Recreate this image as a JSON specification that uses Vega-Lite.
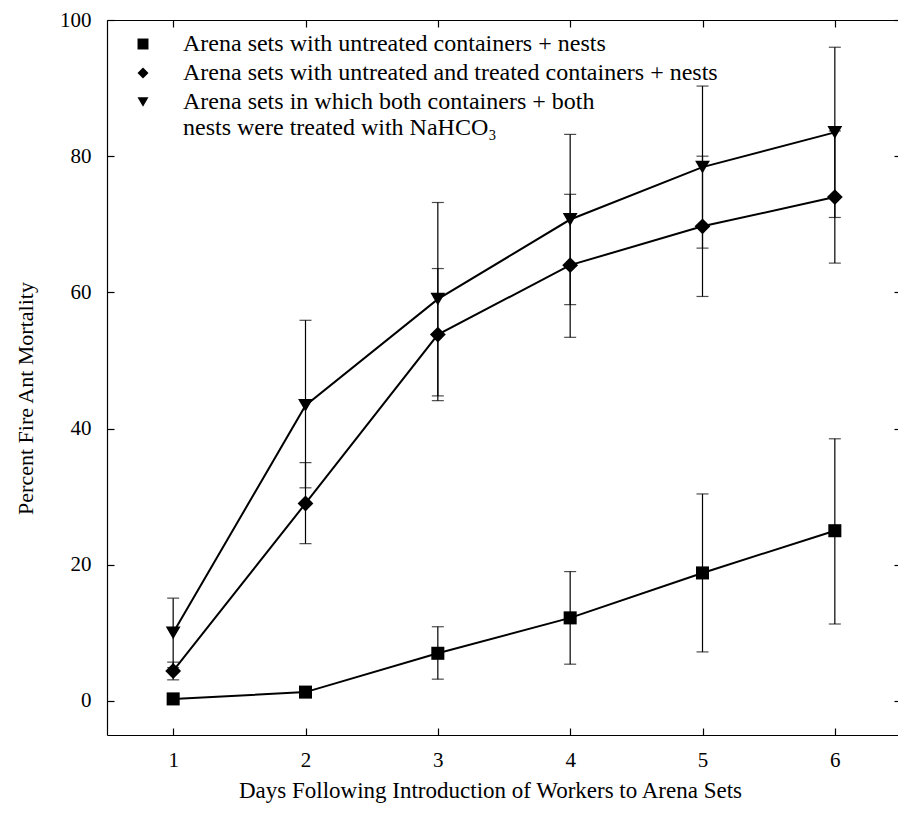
{
  "$schema": "https://vega.github.io/schema/vega-lite/v6.json",
  "width": 794,
  "height": 715,
  "autosize": "none",
  "padding": {"left": 107, "top": 20, "right": 0, "bottom": 85},
  "background": "white",
  "config": {
    "font": "Liberation Serif",
    "view": {"stroke": null},
    "axis": {
      "grid": false,
      "domainColor": "black",
      "domainWidth": 1.2,
      "tickColor": "black",
      "tickWidth": 1.2,
      "tickSize": -7,
      "labelFont": "Liberation Serif",
      "labelFontSize": 21,
      "labelColor": "black",
      "titleFont": "Liberation Serif",
      "titleFontSize": 22,
      "titleFontWeight": "normal",
      "titleColor": "black"
    },
    "legend": {
      "labelFont": "Liberation Serif",
      "labelFontSize": 24,
      "labelColor": "black",
      "labelLimit": 0
    }
  },
  "data": {
    "values": [
      {"series": "Arena sets with untreated containers + nests", "day": 1, "mean": 0.3, "low": 0.3, "high": 0.3},
      {"series": "Arena sets with untreated containers + nests", "day": 2, "mean": 1.3, "low": 1.3, "high": 1.3},
      {"series": "Arena sets with untreated containers + nests", "day": 3, "mean": 7.0, "low": 3.2, "high": 10.9},
      {"series": "Arena sets with untreated containers + nests", "day": 4, "mean": 12.2, "low": 5.4, "high": 19.0},
      {"series": "Arena sets with untreated containers + nests", "day": 5, "mean": 18.8, "low": 7.2, "high": 30.4},
      {"series": "Arena sets with untreated containers + nests", "day": 6, "mean": 25.0, "low": 11.3, "high": 38.5},
      {"series": "Arena sets with untreated and treated containers + nests", "day": 1, "mean": 4.4, "low": 3.1, "high": 5.7},
      {"series": "Arena sets with untreated and treated containers + nests", "day": 2, "mean": 29.0, "low": 23.1, "high": 35.0},
      {"series": "Arena sets with untreated and treated containers + nests", "day": 3, "mean": 53.8, "low": 44.1, "high": 63.5},
      {"series": "Arena sets with untreated and treated containers + nests", "day": 4, "mean": 64.0, "low": 53.4, "high": 74.4},
      {"series": "Arena sets with untreated and treated containers + nests", "day": 5, "mean": 69.7, "low": 59.4, "high": 80.0},
      {"series": "Arena sets with untreated and treated containers + nests", "day": 6, "mean": 74.0, "low": 64.3, "high": 83.7},
      {"series": "Arena sets in which both containers + both", "day": 1, "mean": 10.0, "low": 4.9, "high": 15.1},
      {"series": "Arena sets in which both containers + both", "day": 2, "mean": 43.4, "low": 31.3, "high": 55.9},
      {"series": "Arena sets in which both containers + both", "day": 3, "mean": 59.0, "low": 44.8, "high": 73.2},
      {"series": "Arena sets in which both containers + both", "day": 4, "mean": 70.7, "low": 58.2, "high": 83.2},
      {"series": "Arena sets in which both containers + both", "day": 5, "mean": 78.4, "low": 66.5, "high": 90.3},
      {"series": "Arena sets in which both containers + both", "day": 6, "mean": 83.5, "low": 71.0, "high": 96.0}
    ]
  },
  "layer": [
    {
      "mark": {"type": "errorbar", "color": "black", "ticks": {"size": 12, "thickness": 1.2, "color": "black"}, "rule": {"strokeWidth": 1.2}},
      "encoding": {
        "x": {"field": "day", "type": "quantitative", "scale": {"domain": [0.5, 6.5], "nice": false, "zero": false}, "axis": {
          "orient": "bottom", "values": [1, 2, 3, 4, 5, 6], "labelPadding": 21,
          "title": "Days Following Introduction of Workers to Arena Sets", "titlePadding": 9, "titleX": 383, "titleFontSize": 23
        }},
        "y": {"field": "low", "type": "quantitative", "scale": {"domain": [-5, 100], "nice": false, "zero": false}, "axis": {
          "orient": "left", "values": [0, 20, 40, 60, 80, 100], "labelPadding": 23,
          "title": "Percent Fire Ant Mortality", "titlePadding": 22, "titleY": 378
        }},
        "y2": {"field": "high"}
      }
    },
    {
      "mark": {"type": "line", "color": "black", "strokeWidth": 2},
      "encoding": {
        "x": {"field": "day", "type": "quantitative", "axis": null},
        "y": {"field": "mean", "type": "quantitative", "axis": null},
        "detail": {"field": "series"}
      }
    },
    {
      "transform": [{"filter": "datum.series == 'Arena sets with untreated containers + nests'"}],
      "mark": {"type": "point", "filled": true, "color": "black", "opacity": 1, "size": 170},
      "encoding": {
        "x": {"field": "day", "type": "quantitative", "axis": null},
        "y": {"field": "mean", "type": "quantitative", "axis": null},
        "shape": {
          "field": "series",
          "type": "nominal",
          "scale": {
            "domain": [
              "Arena sets with untreated containers + nests",
              "Arena sets with untreated and treated containers + nests",
              "Arena sets in which both containers + both"
            ],
            "range": ["square", "diamond", "triangle-down"]
          },
          "legend": {
            "title": null,
            "orient": "none",
            "legendX": 24,
            "legendY": 12,
            "symbolSize": 120,
            "symbolFillColor": "black",
            "symbolStrokeColor": "black",
            "symbolStrokeWidth": 0,
            "labelOffset": 28,
            "rowPadding": 5
          }
        }
      }
    },
    {
      "transform": [{"filter": "datum.series == 'Arena sets with untreated and treated containers + nests'"}],
      "mark": {"type": "point", "filled": true, "color": "black", "opacity": 1, "size": 250},
      "encoding": {
        "x": {"field": "day", "type": "quantitative", "axis": null},
        "y": {"field": "mean", "type": "quantitative", "axis": null},
        "shape": {"field": "series", "type": "nominal"}
      }
    },
    {
      "transform": [{"filter": "datum.series == 'Arena sets in which both containers + both'"}],
      "mark": {"type": "point", "filled": true, "color": "black", "opacity": 1, "size": 220},
      "encoding": {
        "x": {"field": "day", "type": "quantitative", "axis": null},
        "y": {"field": "mean", "type": "quantitative", "axis": null},
        "shape": {"field": "series", "type": "nominal"}
      }
    },
    {
      "mark": {"type": "point", "opacity": 0},
      "encoding": {
        "x": {"field": "day", "type": "quantitative", "axis": {"orient": "top", "values": [1, 2, 3, 4, 5, 6], "labels": false, "title": null}},
        "y": {"field": "mean", "type": "quantitative", "axis": {"orient": "right", "values": [0, 20, 40, 60, 80, 100], "labels": false, "title": null}},
        "color": {
          "datum": "nests were treated with NaHCO₃",
          "type": "nominal",
          "scale": {"range": ["black"]},
          "legend": {
            "title": null,
            "orient": "none",
            "legendX": 24,
            "legendY": 96,
            "symbolSize": 120,
            "symbolOpacity": 0,
            "symbolStrokeWidth": 0,
            "labelOffset": 28
          }
        }
      }
    }
  ],
  "resolve": {"axis": {"x": "independent", "y": "independent"}}
}
